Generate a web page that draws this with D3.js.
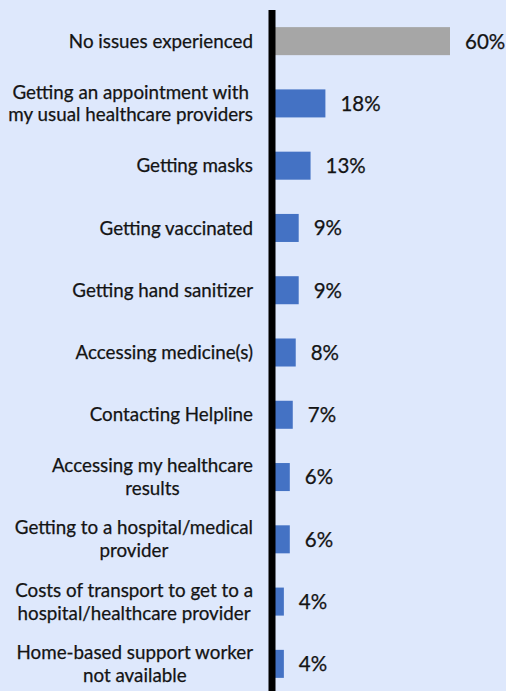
<!DOCTYPE html>
<html>
<head>
<meta charset="utf-8">
<script src="https://cdn.jsdelivr.net/npm/d3@7"></script>
<style>
  body { margin: 0; background: #dee8fc; }
  svg { display: block; }
</style>
</head>
<body>
<svg id="chart"></svg>
<script>
// categories, top to bottom (each label split into its lines)
const categories = [
  ["No issues experienced"],
  ["Getting an appointment with", "my usual healthcare providers"],
  ["Getting masks"],
  ["Getting vaccinated"],
  ["Getting hand sanitizer"],
  ["Accessing medicine(s)"],
  ["Contacting Helpline"],
  ["Accessing my healthcare", "results"],
  ["Getting to a hospital/medical", "provider"],
  ["Costs of transport to get to a", "hospital/healthcare provider"],
  ["Home-based support worker", "not available"]
]
const values = [60, 18, 13, 9, 9, 8, 7, 6, 6, 4, 4]
const valueLabels = ["60%", "18%", "13%", "9%", "9%", "8%", "7%", "6%", "6%", "4%", "4%"]

const width = 506, height = 691
const rows = categories.map((c, i) => ({ id: i, lines: c, v: values[i], label: valueLabels[i] }))

const svg = d3.select("#chart").attr("width", width).attr("height", height)

svg.append("rect").attr("width", width).attr("height", height).attr("fill", "#dee8fc")

const x = d3.scaleLinear().domain([0, 60]).range([272, 450])
const y = d3.scaleBand()
  .domain(rows.map(d => d.id))
  .range([10, 695])
  .paddingInner(0.55)
  .paddingOuter(0.275)

// bars
svg.append("g")
  .selectAll("rect")
  .data(rows)
  .enter().append("rect")
    .attr("x", x(0))
    .attr("y", d => y(d.id))
    .attr("width", d => x(d.v) - x(0))
    .attr("height", y.bandwidth())
    .attr("fill", d => d.id === 0 ? "#a6a6a6" : "#4472c4")

// axis line
svg.append("line")
  .attr("x1", x(0)).attr("x2", x(0))
  .attr("y1", 10).attr("y2", height)
  .attr("stroke", "#000").attr("stroke-width", 7)

// category labels: block right-aligned at 253, lines centred inside the block
const lineH = 23
const lab = svg.append("g")
  .selectAll("text")
  .data(rows)
  .enter().append("text")
    .attr("text-anchor", "middle")
    .attr("font-family", "Lato, 'Open Sans', sans-serif")
    .attr("font-size", 18.8)
    .attr("fill", "#141414")
    .attr("stroke", "#141414").attr("stroke-width", 0.25)
    .attr("transform", d => {
      const cy = y(d.id) + y.bandwidth() / 2
      return `translate(253,${cy - (d.lines.length - 1) * lineH / 2})`
    })
lab.selectAll("tspan")
  .data(d => d.lines)
  .enter().append("tspan")
    .attr("y", (t, i) => i * lineH)
    .attr("dy", "0.35em")
    .text(t => t)
lab.each(function(){
  const spans = d3.select(this).selectAll("tspan")
  let maxW = 0
  spans.each(function(){ maxW = Math.max(maxW, this.getComputedTextLength()) })
  spans.attr("x", -maxW / 2)
})

// value labels
svg.append("g")
  .selectAll("text")
  .data(rows)
  .enter().append("text")
    .attr("x", d => x(d.v) + 15)
    .attr("y", d => y(d.id) + y.bandwidth() / 2)
    .attr("dy", "0.36em")
    .attr("font-family", "Lato, 'Open Sans', sans-serif")
    .attr("font-size", 20.5)
    .attr("fill", "#141414")
    .attr("stroke", "#141414").attr("stroke-width", 0.25)
    .text(d => d.label)
</script>
</body>
</html>
